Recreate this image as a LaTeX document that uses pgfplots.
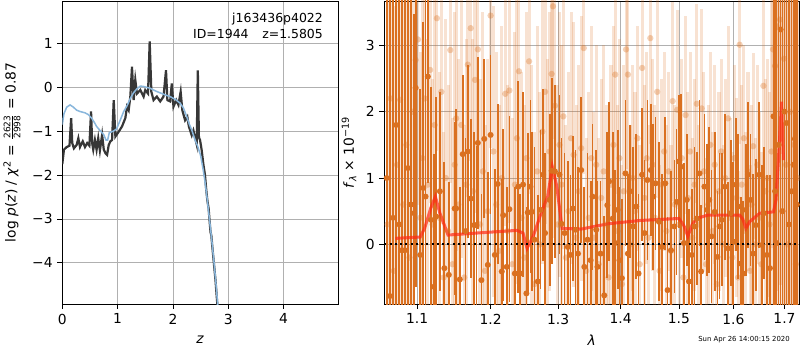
\documentclass[border=0pt]{standalone}
\usepackage{fontspec}
\setmainfont{DejaVu Sans}
\usepackage{pgfplots}
\pgfplotsset{compat=1.18}
\definecolor{pzline}{RGB}{55,55,55}
\definecolor{pzblue}{RGB}{138,183,220}
\definecolor{dorange}{RGB}{218,112,32}
\definecolor{gridgray}{RGB}{176,176,176}
\definecolor{modelred}{RGB}{255,40,20}
\begin{document}
\begin{tikzpicture}
\path[use as bounding box] (0,0) rectangle (578.16pt,252.95pt);
\pgfplotsset{
  every axis/.append style={
    scale only axis,
    /pgf/number format/assume math mode=true,
    tick label style={font=\fontsize{10}{12}\selectfont},
    label style={font=\fontsize{10}{12}\selectfont},
    tick align=outside, tick pos=left,
    major tick length=3.5pt,
    every tick/.style={black, line width=0.6pt},
    axis line style={line width=0.6pt},
    grid=major,
    grid style={color=gridgray, line width=0.6pt},
  }
}
% ---------------- left panel ----------------
\begin{axis}[
  at={(45.02pt,33.24pt)}, anchor=south west,
  width=199.47pt, height=218.98pt,
  xmin=0, xmax=4.99, ymin=-4.94, ymax=1.97,
  xtick={0,1,2,3,4}, xticklabels={0,1,2,3,4},
  ytick={-4,-3,-2,-1,0,1}, yticklabels={−4,−3,−2,−1,0,1},
  xlabel={\textit{z}},
  xlabel style={at={(axis description cs:0.499,-0.119)}, anchor=center},
  ylabel={log \textit{p}(\textit{z}) / \textit{χ}\textsuperscript{2} = $\frac{\hbox{\fontsize{6.5}{7}\selectfont 2623}}{\hbox{\fontsize{6.5}{7}\selectfont 2998}}$ = 0.87},
  ylabel style={at={(axis description cs:-0.182,0.5)}, anchor=center},
]
\addplot[color=pzline, line width=1.6pt] coordinates {
(0.00,-1.75) (0.03,-1.42) (0.08,-1.36) (0.13,-1.33) (0.16,-0.70) (0.18,-1.27)
(0.21,-1.39) (0.26,-1.31) (0.29,-1.16) (0.32,-1.36) (0.37,-1.23) (0.41,-1.36)
(0.45,-1.27) (0.49,-1.33) (0.52,-0.55) (0.54,-1.27) (0.56,-1.42) (0.59,-1.20)
(0.62,-1.42) (0.65,-1.16) (0.68,-1.44) (0.72,-1.08) (0.75,-1.42) (0.78,-1.50)
(0.81,-1.54) (0.84,-1.31) (0.87,-1.23) (0.90,-1.20) (0.93,-0.29) (0.96,-1.12)
(1.02,-1.01) (1.08,-0.89) (1.14,-0.70) (1.17,-0.44) (1.20,-0.52) (1.23,-0.21)
(1.26,0.47) (1.29,-0.29) (1.32,0.17) (1.35,-0.14) (1.41,-0.06) (1.47,-0.21)
(1.50,-0.06) (1.55,-0.14) (1.58,1.05) (1.61,-0.10) (1.65,-0.29) (1.71,-0.21)
(1.77,-0.32) (1.83,-0.21) (1.875,0.39) (1.90,-0.29) (1.95,-0.32) (1.98,0.09)
(2.01,-0.44) (2.06,-0.29) (2.10,-0.40) (2.14,-0.10) (2.17,-0.52) (2.22,-0.75)
(2.26,-0.67) (2.29,-0.90) (2.34,-1.09) (2.37,-0.98) (2.40,-1.14) (2.43,-1.30)
(2.45,0.39) (2.47,-1.14) (2.49,-1.20) (2.52,-1.43) (2.55,-1.75) (2.58,-2.00)
(2.60,-2.30) (2.62,-2.55) (2.635,-2.68) (2.645,-2.75) (2.66,-3.00) (2.68,-3.30)
(2.695,-3.38) (2.71,-3.60) (2.74,-4.00) (2.77,-4.40) (2.80,-4.90) (2.82,-5.20)
};
\addplot[color=pzblue, line width=1.1pt] coordinates {
(0.00,-0.85) (0.03,-0.60) (0.08,-0.45) (0.14,-0.40) (0.20,-0.45) (0.26,-0.52)
(0.32,-0.55) (0.41,-0.58) (0.47,-0.62) (0.53,-0.70) (0.58,-0.80) (0.62,-0.89)
(0.68,-0.98) (0.75,-1.08) (0.79,-1.20) (0.82,-1.20) (0.85,-1.03) (0.92,-1.00)
(0.98,-0.95) (1.05,-0.74) (1.11,-0.55) (1.17,-0.42) (1.23,-0.25) (1.29,-0.12)
(1.35,-0.03) (1.41,0.03) (1.47,0.02) (1.53,0.00) (1.59,-0.02) (1.65,-0.06)
(1.72,-0.10) (1.80,-0.14) (1.88,-0.18) (1.95,-0.21) (2.05,-0.28) (2.13,-0.36)
(2.19,-0.47) (2.25,-0.67) (2.30,-0.85) (2.34,-0.97) (2.40,-1.20) (2.45,-1.35)
(2.50,-1.55) (2.55,-1.90) (2.58,-2.15) (2.62,-2.55) (2.66,-3.00) (2.70,-3.45)
(2.74,-3.95) (2.78,-4.50) (2.81,-4.95) (2.83,-5.20)
};
\node[anchor=north east, align=right, font=\fontsize{9}{11}\selectfont, inner sep=0pt]
  at (axis description cs:0.945,0.96) {j163436p4022\\ID=1944\hspace{1.1em}z=1.5805};
\end{axis}
% ---------------- right panel ----------------
\begin{axis}[
  at={(277.74pt,33.24pt)}, anchor=south west,
  width=299.92pt, height=218.98pt,
  xmode=log,
  xmin=1.058, xmax=1.73, ymin=-0.9, ymax=3.67,
  xtick={1.1,1.2,1.3,1.4,1.5,1.6,1.7},
  xticklabels={1.1,1.2,1.3,1.4,1.5,1.6,1.7},
  minor xtick={},
  ytick={0,1,2,3}, yticklabels={0,1,2,3},
  xlabel={\textit{λ}},
  xlabel style={at={(axis description cs:0.50,-0.119)}, anchor=center},
  ylabel={\textit{f}\textsubscript{\textit{λ}} × 10\textsuperscript{−19}},
  ylabel style={at={(axis description cs:-0.085,0.5)}, anchor=center},
]
% light points
\addplot[only marks, mark=*, mark size=2.3pt, color=dorange,
  mark options={draw opacity=0, fill=dorange, fill opacity=0.33},
  error bars/.cd, y dir=both, y explicit, error mark=none,
  error bar style={line width=2.2pt, color=dorange, draw opacity=0.2}]
table[x=x, y=y, y error=e] {
x y e
1.062 0.3 4.5
1.066 2.2 4
1.070 -0.4 4
1.074 1.2 4
1.078 2.18 4
1.082 0.6 4
1.086 1.5 4
1.090 -0.2 4
1.094 2.0 3
1.098 2.78 3
1.101 3.09 2.5
1.104 0.4 2.5
1.107 1.3 2.5
1.110 2.2 2
1.114 0.9 2.2
1.117 2.63 2
1.120 0.3 2.2
1.123 1.8 2
1.126 3.41 2
1.129 0.4 2.2
1.132 2.3 2
1.135 -0.5 2.2
1.138 1.0 2.4
1.141 0.2 2.2
1.144 2.93 2
1.147 -0.3 2.2
1.150 1.2 2.3
1.152 1.90 2
1.155 0.6 2.2
1.159 1.8 2
1.163 -0.5 2.3
1.166 0.9 2.2
1.168 2.71 2
1.172 3.26 2
1.175 0.8 2.3
1.178 2.48 2
1.182 2.94 2
1.185 0.3 2.2
1.189 1.1 2.4
1.192 -0.4 2.2
1.196 0.5 2.3
1.200 3.45 2
1.204 1.4 2.2
1.208 0.6 2.3
1.212 -0.1 2.2
1.216 1.0 2.3
1.221 2.27 2
1.224 0.2 2.2
1.227 2.32 2
1.231 -0.3 2.2
1.235 0.9 2.3
1.238 1.6 2.2
1.241 2.61 2
1.245 0.4 2.2
1.249 -0.2 2.3
1.252 1.3 2.2
1.256 2.76 2
1.260 0.5 2.2
1.264 -0.6 2.3
1.268 1.1 2.2
1.272 0.0 2.3
1.276 1.7 2.0
1.280 2.3 2.0
1.284 0.6 2.2
1.287 1.4 2.1
1.290 2.57 2
1.292 3.59 2
1.295 2.09 2
1.299 0.3 2.1
1.302 1.5 2.0
1.305 0.9 2.1
1.308 1.93 2
1.312 -0.2 2.0
1.316 0.5 2.1
1.320 1.6 1.9
1.324 1.35 2.0
1.328 0.1 2.0
1.332 0.8 1.9
1.336 1.45 2.0
1.340 2.96 1.9
1.344 -0.4 2.0
1.348 0.4 1.9
1.352 1.3 2.0
1.356 0.1 1.9
1.360 1.2 1.8
1.364 -0.3 1.9
1.368 0.7 1.8
1.372 1.1 1.9
1.376 0.3 1.8
1.380 -0.5 1.9
1.384 0.9 1.8
1.388 1.5 1.8
1.391 2.56 1.8
1.395 0.2 1.9
1.398 1.3 1.8
1.402 -0.6 1.8
1.405 0.8 1.9
1.409 2.94 1.8
1.412 2.56 1.8
1.416 0.0 1.8
1.420 1.0 1.7
1.424 0.5 1.8
1.428 1.6 1.7
1.432 -0.3 1.8
1.436 2.66 1.7
1.440 0.7 1.7
1.444 1.3 1.6
1.447 0.1 1.7
1.450 3.11 1.6
1.454 1.2 1.6
1.458 0.4 1.7
1.462 2.30 1.6
1.466 -0.4 1.6
1.470 0.9 1.6
1.474 1.4 1.5
1.478 0.2 1.6
1.482 1.1 1.5
1.486 -0.1 1.6
1.489 2.16 1.5
1.493 0.6 1.5
1.497 2.03 1.5
1.501 0.3 1.6
1.505 1.3 1.5
1.508 -0.5 1.5
1.512 1.95 1.5
1.516 0.7 1.6
1.520 1.4 1.5
1.524 0.1 1.5
1.528 0.9 1.6
1.532 2.12 1.5
1.536 0.3 1.5
1.541 2.05 1.5
1.545 1.1 1.5
1.549 -0.3 1.6
1.553 0.6 1.5
1.557 1.5 1.4
1.561 0.2 1.5
1.565 1.2 1.5
1.569 -0.6 1.6
1.573 0.8 1.5
1.577 1.4 1.4
1.581 0.0 1.5
1.585 1.0 1.5
1.590 1.90 1.4
1.594 0.4 1.5
1.598 -0.2 1.6
1.602 1.3 1.4
1.606 0.7 1.5
1.609 -0.5 1.6
1.612 3.01 1.5
1.616 0.9 1.5
1.620 1.6 1.4
1.624 0.2 1.5
1.628 1.1 1.5
1.632 -0.4 1.6
1.635 0.6 1.5
1.638 1.48 1.4
1.642 0.0 1.6
1.646 1.2 1.5
1.650 0.4 1.6
1.654 -0.3 1.7
1.658 2.39 1.6
1.662 0.8 1.7
1.666 1.0 1.8
1.670 0.3 2.0
1.674 1.4 2.4
1.677 2.94 3
1.681 2.69 3
1.684 3.29 4
1.688 1.5 4
1.691 3.39 4
1.695 0.5 4
1.699 2.8 4
1.703 1.2 4
1.707 0.0 4
1.711 2.0 4
1.715 0.8 4
1.719 1.5 4
1.723 -0.3 4
1.727 1.0 4
};
% dark points
\addplot[only marks, mark=*, mark size=2.2pt, color=dorange,
  mark options={draw opacity=0, fill=dorange},
  error bars/.cd, y dir=both, y explicit, error mark=none,
  error bar style={line width=1.25pt, color=dorange}]
table[x=x, y=y, y error=e] {
x y e
1.061 1.0 5
1.065 -0.78 5
1.069 0.4 5
1.073 1.8 5
1.077 0.3 5
1.080 -0.09 5
1.084 -0.09 4
1.088 1.15 4
1.092 0.6 5
1.096 0.47 3
1.098 2.36 3
1.104 -0.16 2.5
1.108 0.85 2.5
1.111 0.72 3
1.114 2.53 1.6
1.118 0.37 2
1.122 -0.64 2
1.125 0.42 1.8
1.130 0.80 1.5
1.136 -0.36 1.6
1.142 -0.46 1.4
1.150 0.54 1.3
1.152 0.54 1.5
1.157 -0.53 1.4
1.161 1.36 1.2
1.165 0.2 1.4
1.168 1.40 1.3
1.172 0.69 1.2
1.177 0.29 1.4
1.180 0.29 1.2
1.182 1.53 1.3
1.187 -0.54 1.3
1.191 1.59 1.2
1.196 -0.31 1.4
1.200 1.65 1.2
1.206 -0.16 1.3
1.210 0.91 1.2
1.216 -0.41 1.4
1.218 0.44 1.3
1.223 -0.34 1.2
1.227 0.53 1.4
1.235 -0.44 1.3
1.240 0.87 1.6
1.243 -0.44 1.2
1.247 0.90 1.4
1.252 -0.74 1.3
1.254 0.48 1.2
1.258 0.87 1.3
1.260 0.49 1.2
1.264 0.07 1.4
1.269 -0.56 1.3
1.273 0.52 1.2
1.277 1.05 1.3
1.280 0.17 1.2
1.287 0.67 1.3
1.290 1.11 1.4
1.295 1.10 1.3
1.302 1.05 1.2
1.305 0.31 1.3
1.310 0.17 1.2
1.315 -0.04 1.3
1.319 -0.16 1.2
1.323 0.54 1.1
1.327 0.22 1.2
1.331 -0.14 1.3
1.336 1.12 1.1
1.341 -0.34 1.2
1.346 0.07 1.3
1.351 -0.24 1.2
1.354 0.72 1.1
1.360 0.22 1.2
1.362 -0.34 1.3
1.367 -0.14 1.1
1.373 -0.77 1.2
1.378 0.59 1.1
1.381 0.95 1.2
1.387 0.39 1.3
1.391 0.02 1.1
1.395 0.52 1.2
1.398 -0.24 1.1
1.402 -0.51 1.2
1.408 1.07 1.1
1.412 -0.14 1.2
1.416 0.80 1.0
1.421 0.27 1.2
1.426 0.57 1.1
1.430 -0.44 1.2
1.436 1.05 1.0
1.440 0.17 1.1
1.445 0.97 1.2
1.451 1.12 1.0
1.455 0.72 1.1
1.459 0.92 1.0
1.465 0.34 1.2
1.470 -0.04 1.1
1.476 0.92 1.0
1.480 -0.69 1.1
1.486 -0.09 1.2
1.492 0.27 1.0
1.496 0.64 1.1
1.500 1.25 1.0
1.504 1.17 1.1
1.509 0.02 1.2
1.514 0.67 1.0
1.518 -0.56 1.1
1.523 -0.16 1.0
1.528 0.27 1.2
1.532 0.39 1.0
1.537 1.07 1.1
1.540 -0.41 1.0
1.546 0.87 1.1
1.551 0.52 1.0
1.555 0.67 1.1
1.559 0.12 1.0
1.565 0.49 1.2
1.570 -0.19 1.0
1.574 0.27 1.1
1.578 0.37 1.0
1.584 0.87 1.1
1.590 -0.06 1.0
1.595 0.47 1.1
1.600 0.04 1.2
1.605 0.90 1.0
1.609 0.57 1.1
1.614 -0.29 1.0
1.619 -0.44 1.1
1.624 0.52 1.0
1.628 1.05 1.1
1.633 0.67 1.0
1.638 -0.14 1.2
1.643 0.29 1.0
1.650 1.05 1.1
1.655 -0.01 1.2
1.659 0.47 1.0
1.665 -0.16 1.2
1.671 -0.36 1.4
1.678 1.93 3
1.681 0.8 5
1.684 0.02 5
1.688 1.5 5
1.692 3.24 5
1.696 0.5 5
1.700 2.0 5
1.704 1.83 5
1.709 0.3 5
1.714 0.80 5
1.718 1.2 5
1.721 1.59 5
1.725 0.6 5
};
% model
\addplot[color=modelred, line width=2.2pt, opacity=0.7] coordinates {
(1.072,0.09) (1.104,0.11) (1.110,0.25) (1.118,0.55) (1.124,0.72) (1.130,0.47)
(1.141,0.14) (1.180,0.17) (1.238,0.21) (1.247,0.17) (1.253,-0.06) (1.262,0.12)
(1.274,0.47) (1.284,0.72) (1.291,1.17) (1.298,0.87) (1.306,0.24) (1.336,0.23)
(1.379,0.31) (1.433,0.36) (1.500,0.39) (1.509,0.28) (1.516,0.12) (1.524,0.30)
(1.532,0.39) (1.552,0.44) (1.612,0.44) (1.618,0.38) (1.624,0.24) (1.631,0.34)
(1.651,0.47) (1.678,0.49) (1.683,0.67) (1.690,1.58) (1.694,2.15) (1.698,1.27)
};
% zero line
\addplot[color=black, line width=1.4pt, dash pattern=on 1.4pt off 2.4pt] coordinates {(1.058,0) (1.73,0)};
\end{axis}
\node[font=\fontsize{5}{6}\selectfont] at (537.7pt,7.2pt) {Sun Apr 26 14:00:15 2020};
\end{tikzpicture}
\end{document}
